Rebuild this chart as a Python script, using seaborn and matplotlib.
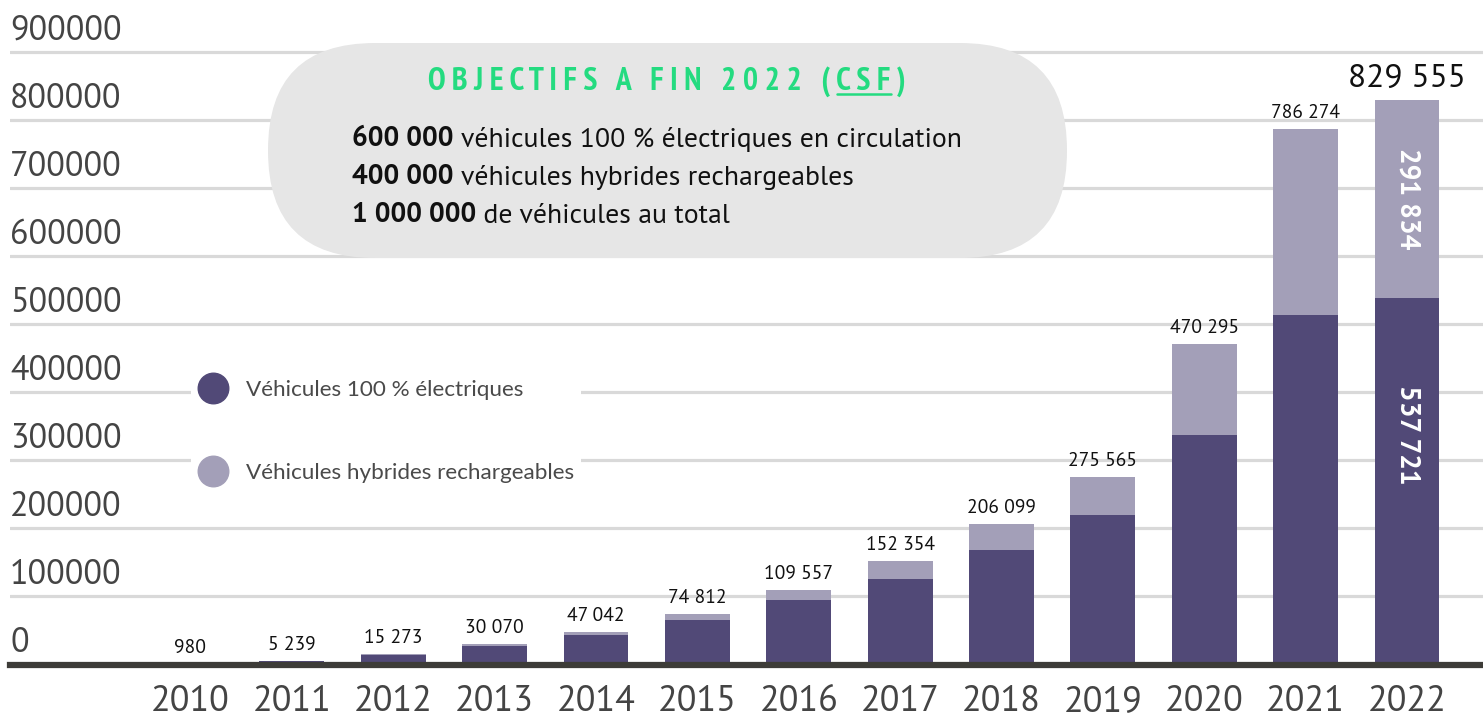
import matplotlib
matplotlib.use("Agg")
import matplotlib.pyplot as plt
import seaborn as sns
from matplotlib.patches import FancyBboxPatch
from matplotlib.lines import Line2D
from matplotlib.text import Annotation
from matplotlib.transforms import IdentityTransform

# data
years = ['2010', '2011', '2012', '2013', '2014', '2015', '2016',
         '2017', '2018', '2019', '2020', '2021', '2022']
electric = [900, 5000, 14500, 27500, 42800, 65600, 94800,
            125700, 168200, 219700, 337200, 513500, 537721]
hybrid = [80, 239, 773, 2570, 4242, 9212, 14757,
          26654, 37899, 55865, 133095, 272774, 291834]
totals = [980, 5239, 15273, 30070, 47042, 74812, 109557,
          152354, 206099, 275565, 470295, 786274, 829555]
total_labels = ['980', '5 239', '15 273', '30 070', '47 042', '74 812', '109 557',
                '152 354', '206 099', '275 565', '470 295', '786 274', '829 555']
yticks = [0, 100000, 200000, 300000, 400000, 500000, 600000, 700000, 800000, 900000]
ytick_labels = ['0', '100000', '200000', '300000', '400000', '500000',
                '600000', '700000', '800000', '900000']
legend_labels = ['Véhicules 100 % électriques', 'Véhicules hybrides rechargeables']

DARK = '#514977'
LIGHT = '#a39fb8'
GREEN = '#24db80'
W, H = 1483, 718

NARROW = ['PT Sans Narrow', 'Roboto Condensed', 'DejaVu Sans']
REGULAR = ['PT Sans', 'Roboto', 'DejaVu Sans']
LEGEND = ['Lato', 'DejaVu Sans']

sns.set_style('white')
plt.rcParams['font.family'] = REGULAR

fig = plt.figure(figsize=(W / 100, H / 100), dpi=100)
ax = fig.add_axes([10 / W, 53.5 / H, 1 - 10 / W, 664.5 / H])

sns.barplot(x=years, y=electric, color=DARK, saturation=1, width=0.64,
            linewidth=0, ax=ax)
sns.barplot(x=years, y=hybrid, bottom=electric, color=LIGHT, saturation=1, width=0.64,
            linewidth=0, ax=ax)

ax.set_xlim(-1.78, 12.75)
ax.set_ylim(0, 976000)
ax.set_yticks(yticks)
ax.set_yticklabels([])
ax.set_axisbelow(True)
ax.grid(axis='y', color='#d9d9d9', lw=2.3)
ax.grid(axis='x', visible=False)
for s in ['top', 'right', 'left']:
    ax.spines[s].set_visible(False)
ax.spines['bottom'].set_color('#3d3c38')
ax.spines['bottom'].set_linewidth(4.5)
ax.spines['bottom'].set_zorder(4)
ax.tick_params(axis='x', length=0, pad=14.5, labelsize=26, labelcolor='#444444')
ax.tick_params(axis='y', length=0)
ax.set_xlabel('')
ax.set_ylabel('')

# y labels sit above their gridline, left aligned
for v, lab in zip(yticks, ytick_labels):
    ax.annotate(lab, xy=(0, v), xycoords=('axes fraction', 'data'),
                xytext=(0, 12), textcoords='offset pixels',
                ha='left', va='baseline', fontsize=24.5, color='#444444',
                annotation_clip=False)

# totals above bars
for i, (t, lab) in enumerate(zip(totals, total_labels)):
    big = i == len(years) - 1
    ax.annotate(lab, xy=(i, t), xytext=(0, 13 if big else 11), textcoords='offset pixels',
                ha='center', va='baseline', fontsize=24 if big else 14, color='#111111')

# values inside the last bar
last = len(years) - 1
ax.text(last, electric[last] + hybrid[last] / 2, '291 834', rotation=-90, ha='center',
        va='center', color='white', fontsize=20, fontweight='bold')
ax.text(last, electric[last] * 0.627, '537 721', rotation=-90, ha='center',
        va='center', color='white', fontsize=20, fontweight='bold')

# legend
handles = [Line2D([], [], ls='', marker='o', markersize=22, color=DARK),
           Line2D([], [], ls='', marker='o', markersize=22, color=LIGHT)]
leg = ax.legend(handles, legend_labels, loc='upper left', bbox_to_anchor=(0.115, 0.455),
                frameon=True, facecolor='white', edgecolor='none', framealpha=1,
                fancybox=False, labelspacing=2.8, handletextpad=0.75,
                borderpad=0.3, handlelength=1.4, prop={'family': LEGEND, 'size': 16.2})
for t in leg.get_texts():
    t.set_color('#4a4a4a')


def px(x, y):
    return x / W, 1 - y / H


# objectives pill
pill = FancyBboxPatch((268, H - 258), 799, 215, boxstyle='round,pad=0,rounding_size=107',
                      transform=IdentityTransform(), facecolor='#e6e6e6', edgecolor='none',
                      zorder=5)
fig.add_artist(pill)

title_pre = 'O B J E C T I F S   A   F I N   2 0 2 2   ( '
title_csf = 'C S F'
title_post = ' )'
tprops = dict(fontsize=23, fontweight='bold', color=GREEN, zorder=6, family=NARROW)
title = fig.text(*px(667, 90), title_pre + title_csf + title_post, ha='center',
                 va='baseline', **tprops)

lines = [('600 000', ' véhicules 100 % électriques en circulation', 146),
         ('400 000', ' véhicules hybrides rechargeables', 184),
         ('1 000 000', ' de véhicules au total', 222)]
for bold, rest, yb in lines:
    t1 = fig.text(*px(352, yb), bold, ha='left', va='baseline', fontsize=20,
                  fontweight='bold', color='#111111', zorder=6)
    fig.add_artist(Annotation(rest, xy=(1, 0), xycoords=t1, ha='left', va='bottom',
                              fontsize=20, color='#111111', zorder=6))

# underline under CSF
fig.canvas.draw()
r = fig.canvas.get_renderer()
bb = title.get_window_extent(r)
tmp1 = fig.text(0, 0, title_pre, **tprops)
tmp2 = fig.text(0, 0, title_pre + title_csf, **tprops)
w1 = tmp1.get_window_extent(r).width
w2 = tmp2.get_window_extent(r).width
tmp1.remove()
tmp2.remove()
yb = bb.y0 + (bb.height * 0.12)
fig.add_artist(Line2D([bb.x0 + w1, bb.x0 + w2], [yb, yb], transform=IdentityTransform(),
                      color=GREEN, lw=1.8, zorder=6))

fig.savefig('out.png', dpi=100)
